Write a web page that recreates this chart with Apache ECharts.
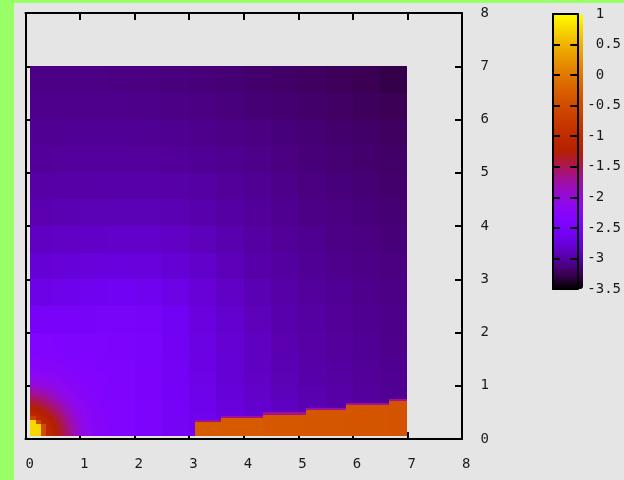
<!DOCTYPE html>
<html>
<head>
<meta charset="utf-8">
<script src="https://cdn.jsdelivr.net/npm/echarts@6/dist/echarts.min.js"></script>
<style>
html, body { margin: 0; padding: 0; background: #99ff66; }
#main { position: absolute; left: 14px; top: 3px; width: 610px; height: 477px; background: #e5e5e5; }
</style>
</head>
<body>
<div id="main"></div>
<script>
// cell edges of the surface (x and y, data units)
var xEdges = [0.08, 0.25, 0.5, 0.75, 1, 1.25, 1.5, 2, 2.5, 3, 3.5, 4, 4.5, 5, 5.5, 6, 6.5, 7];
var yEdges = [0.06, 0.25, 0.5, 0.75, 1, 1.25, 1.5, 2, 2.5, 3, 3.5, 4, 4.5, 5, 5.5, 6, 6.5, 7];

// z values, one row per y cell (bottom row first)
var field = [
  [0.9, -1.0, -1.45, -1.82, -2.08, -2.25, -2.37, -2.43, -2.52, -2.62, -2.75, -2.82, -2.88, -2.93, -2.97, -3.0, -3.03],
  [-1.0, -1.25, -1.58, -1.9, -2.12, -2.27, -2.37, -2.43, -2.52, -2.62, -2.72, -2.8, -2.87, -2.92, -2.96, -3.0, -3.03],
  [-1.45, -1.58, -1.8, -2.03, -2.2, -2.3, -2.38, -2.43, -2.53, -2.64, -2.74, -2.82, -2.88, -2.93, -2.97, -3.0, -3.03],
  [-1.82, -1.9, -2.03, -2.17, -2.27, -2.34, -2.4, -2.45, -2.55, -2.66, -2.76, -2.84, -2.9, -2.95, -2.98, -3.02, -3.05],
  [-2.08, -2.12, -2.2, -2.27, -2.33, -2.37, -2.41, -2.45, -2.56, -2.68, -2.78, -2.86, -2.92, -2.97, -3.0, -3.03, -3.06],
  [-2.25, -2.27, -2.3, -2.34, -2.37, -2.39, -2.42, -2.46, -2.57, -2.69, -2.79, -2.87, -2.93, -2.98, -3.01, -3.04, -3.07],
  [-2.37, -2.38, -2.39, -2.4, -2.41, -2.42, -2.43, -2.47, -2.58, -2.7, -2.8, -2.88, -2.94, -2.99, -3.02, -3.05, -3.08],
  [-2.52, -2.51, -2.5, -2.49, -2.48, -2.47, -2.47, -2.5, -2.6, -2.72, -2.82, -2.9, -2.96, -3.0, -3.04, -3.07, -3.09],
  [-2.68, -2.67, -2.66, -2.64, -2.62, -2.61, -2.6, -2.62, -2.68, -2.77, -2.86, -2.93, -2.98, -3.02, -3.05, -3.08, -3.1],
  [-2.79, -2.78, -2.77, -2.76, -2.75, -2.74, -2.73, -2.74, -2.78, -2.84, -2.91, -2.97, -3.01, -3.05, -3.08, -3.1, -3.12],
  [-2.87, -2.87, -2.86, -2.86, -2.85, -2.85, -2.84, -2.84, -2.86, -2.9, -2.95, -3.0, -3.04, -3.07, -3.1, -3.12, -3.14],
  [-2.94, -2.94, -2.93, -2.93, -2.92, -2.92, -2.92, -2.92, -2.93, -2.96, -3.0, -3.03, -3.07, -3.1, -3.12, -3.14, -3.16],
  [-2.99, -2.99, -2.98, -2.98, -2.98, -2.98, -2.97, -2.97, -2.98, -3.0, -3.03, -3.06, -3.09, -3.12, -3.14, -3.16, -3.18],
  [-3.03, -3.03, -3.02, -3.02, -3.02, -3.02, -3.02, -3.02, -3.03, -3.05, -3.07, -3.09, -3.12, -3.14, -3.16, -3.18, -3.2],
  [-3.06, -3.06, -3.06, -3.05, -3.05, -3.05, -3.05, -3.06, -3.07, -3.08, -3.1, -3.12, -3.14, -3.16, -3.18, -3.2, -3.22],
  [-3.08, -3.08, -3.08, -3.08, -3.08, -3.08, -3.08, -3.09, -3.1, -3.11, -3.13, -3.15, -3.17, -3.19, -3.21, -3.23, -3.25],
  [-3.1, -3.1, -3.1, -3.1, -3.1, -3.1, -3.11, -3.12, -3.13, -3.14, -3.16, -3.18, -3.2, -3.22, -3.24, -3.26, -3.29]
];

// radial profile round the origin: outer radius of each ring and its z
var ringR = [1.75, 1.65, 1.55, 1.45, 1.35, 1.25, 1.15, 1.05, 1.0, 0.95, 0.9, 0.85, 0.8,
  0.75, 0.7, 0.65, 0.6, 0.55, 0.5, 0.45, 0.4, 0.35, 0.3];
var ringZ = [-2.36, -2.34, -2.31, -2.27, -2.22, -2.15, -2.07, -1.98, -1.91, -1.83, -1.74, -1.65, -1.56,
  -1.47, -1.38, -1.3, -1.22, -1.15, -1.08, -1.02, -0.95, -0.88, -0.8];

// small patches at the origin: [x0, x1, y0, y1, z]
var cornerPatches = [
  [0.08, 0.28, 0.06, 0.28, 0.75],
  [0.08, 0.2, 0.28, 0.36, 0.75],
  [0.28, 0.37, 0.06, 0.28, -0.5],
  [0.2, 0.28, 0.28, 0.36, -0.5],
  [0.08, 0.2, 0.36, 0.43, -0.7]
];

// the orange step band along the bottom
var stepX = [3.1, 3.58, 4.35, 5.14, 5.87, 6.66, 7.0];
var stepTop = [0.31, 0.39, 0.46, 0.54, 0.63, 0.71];
var stepZ = [-0.3, -0.32, -0.34, -0.36, -0.38, -0.4];
var stepEdgeZ = -1.7;

// palette (black - blue - violet - red - orange - yellow)
var palette = ['#000000', '#39004f', '#510096', '#6301ce', '#7202f3', '#8004ff', '#8c07f3',
  '#970bce', '#a11096', '#ab174f', '#b42000', '#bd2a00', '#c63700', '#ce4600', '#d55700',
  '#dd6c00', '#e48300', '#eb9d00', '#f2ba00', '#f9db00', '#ffff00'];

var cells = [];
for (var j = 0; j < field.length; j++) {
  for (var i = 0; i < field[j].length; i++) {
    cells.push([xEdges[i], xEdges[i + 1], yEdges[j], yEdges[j + 1], field[j][i]]);
  }
}
var rings = ringR.map(function (r, i) { return [0, r, 0, r, ringZ[i]]; });
var patches = cornerPatches.slice();
for (var k = 0; k < stepTop.length; k++) {
  patches.push([stepX[k], stepX[k + 1], yEdges[0], stepTop[k], stepZ[k]]);
  patches.push([stepX[k], stepX[k + 1], stepTop[k], stepTop[k] + 0.045, stepEdgeZ]);
}

function renderCell(params, api) {
  var a = api.coord([api.value(0), api.value(2)]);
  var b = api.coord([api.value(1), api.value(3)]);
  var x0 = Math.round(a[0]), x1 = Math.round(b[0]);
  var y0 = Math.round(b[1]), y1 = Math.round(a[1]);
  return {
    type: 'rect',
    shape: { x: x0, y: y0, width: x1 - x0, height: y1 - y0 },
    style: { fill: api.visual('color') }
  };
}

function renderRing(params, api) {
  var o = api.coord([0, 0]);
  var e = api.coord([api.value(1), api.value(3)]);
  var lo = api.coord([xEdges[0], yEdges[0]]);
  return {
    type: 'sector',
    shape: { cx: o[0], cy: o[1], r: ((e[0] - o[0]) + (o[1] - e[1])) / 2, startAngle: -Math.PI / 2, endAngle: 0 },
    style: { fill: api.visual('color') },
    clipPath: { type: 'rect', shape: { x: Math.round(lo[0]), y: 0, width: 1000, height: Math.round(lo[1]) } }
  };
}

function signLabel(v) {
  return (v >= 0 ? ' ' : '') + v;
}

var black = { color: '#000', width: 2 };
var font = { color: '#1a1a1a', fontFamily: 'DejaVu Sans Mono', fontSize: 14 };

function axis(grid, pos, min, max, step, labels, tickLen, extra) {
  var o = {
    gridIndex: grid, type: 'value', position: pos, min: min, max: max, interval: step,
    axisLine: { onZero: false, lineStyle: black },
    axisTick: { show: tickLen > 0, inside: true, length: tickLen, lineStyle: black },
    axisLabel: labels ? Object.assign({ formatter: signLabel }, font, labels) : { show: false },
    splitLine: { show: false }
  };
  return Object.assign(o, extra || {});
}

var chart = echarts.init(document.getElementById('main'));
chart.setOption({
  animation: false,
  grid: [
    { left: 10, top: 10, width: 438, height: 426 },
    { left: 539, top: 11, width: 30, height: 275 }
  ],
  xAxis: [
    axis(0, 'bottom', 0, 8, 1, { margin: 18 }, 7),
    axis(0, 'top', 0, 8, 1, null, 7),
    axis(1, 'bottom', 0, 1, 1, null, 0, { z: 10 }),
    axis(1, 'top', 0, 1, 1, null, 0, { z: 10 })
  ],
  yAxis: [
    axis(0, 'left', 0, 8, 1, null, 7),
    axis(0, 'right', 0, 8, 1, { margin: 10 }, 7),
    axis(1, 'left', -3.5, 1, 0.5, null, 7, { z: 10 }),
    axis(1, 'right', -3.5, 1, 0.5, { margin: 10 }, 7, { z: 10 })
  ],
  visualMap: {
    type: 'continuous', min: -3.5, max: 1, dimension: 4, seriesIndex: [0, 1, 2],
    calculable: false, hoverLink: false, padding: 0,
    itemWidth: 30, itemHeight: 275, left: 539, top: 11,
    inRange: { color: palette }
  },
  series: [
    { type: 'custom', xAxisIndex: 0, yAxisIndex: 0, renderItem: renderCell, data: cells, silent: true },
    { type: 'custom', xAxisIndex: 0, yAxisIndex: 0, renderItem: renderRing, data: rings, silent: true },
    { type: 'custom', xAxisIndex: 0, yAxisIndex: 0, renderItem: renderCell, data: patches, silent: true }
  ]
});
</script>
</body>
</html>
